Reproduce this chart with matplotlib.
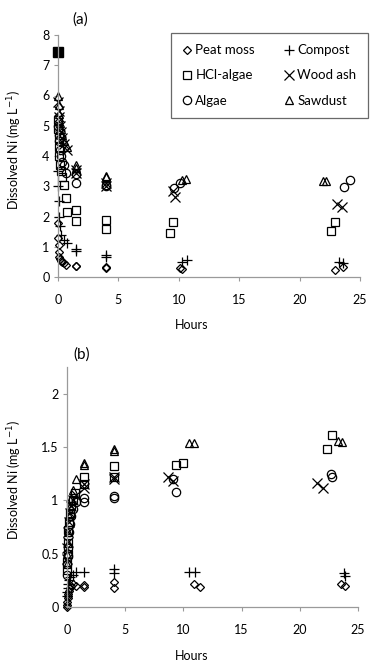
import matplotlib
matplotlib.use("Agg")
import matplotlib.pyplot as plt

plt.rcParams['font.family'] = ['Lato', 'DejaVu Sans']

# ---- panel (a): dissolved Ni vs time ----
a_initial = 7.45

a_peat_t = [0, 0.03, 0.05, 0.08, 0.1, 0.17, 0.25, 0.33, 0.5, 0.67, 1.5, 1.5, 4, 4, 10.1, 10.3, 22.9, 23.6]
a_peat_y = [1.78, 1.3, 1.05, 0.83, 0.65, 0.58, 0.52, 0.48, 0.45, 0.4, 0.38, 0.35, 0.33, 0.3, 0.3, 0.27, 0.22, 0.32]

a_comp_t = [0, 0.03, 0.05, 0.08, 0.17, 0.25, 0.5, 0.75, 1.5, 1.5, 4, 4, 10.3, 10.7, 23.3, 23.6]
a_comp_y = [3.5, 3.0, 2.5, 2.0, 1.7, 1.4, 1.22, 1.12, 0.92, 0.85, 0.73, 0.65, 0.5, 0.55, 0.5, 0.45]

a_hcl_t = [0, 0.03, 0.05, 0.08, 0.1, 0.17, 0.25, 0.33, 0.5, 0.67, 0.75, 1.5, 1.5, 4, 4, 9.3, 9.5, 22.6, 22.9]
a_hcl_y = [5.2, 4.9, 4.6, 4.3, 4.0, 3.7, 3.5, 3.3, 3.04, 2.6, 2.15, 2.2, 1.85, 1.9, 1.6, 1.45, 1.82, 1.52, 1.82]

a_wood_t = [0, 0.05, 0.08, 0.17, 0.25, 0.33, 0.5, 0.75, 1.5, 1.5, 4, 4, 9.5, 9.7, 23.1, 23.5]
a_wood_y = [5.8, 5.5, 5.3, 5.0, 4.8, 4.6, 4.4, 4.2, 3.55, 3.45, 3.1, 3.0, 2.85, 2.65, 2.42, 2.3]

a_alg_t = [0, 0.05, 0.08, 0.17, 0.25, 0.33, 0.5, 0.67, 1.5, 1.5, 4, 4, 9.6, 10.1, 23.7, 24.2]
a_alg_y = [5.0, 4.7, 4.5, 4.2, 4.0, 3.8, 3.7, 3.45, 3.42, 3.1, 3.05, 3.0, 2.95, 3.1, 2.98, 3.2]

a_saw_t = [0, 0.05, 0.08, 0.17, 0.25, 0.33, 0.5, 0.75, 1.5, 1.5, 4, 4, 10.3, 10.6, 21.9, 22.2]
a_saw_y = [6.0, 5.7, 5.4, 5.1, 4.9, 4.7, 4.5, 4.3, 3.7, 3.6, 3.35, 3.3, 3.2, 3.25, 3.17, 3.17]

# ---- panel (b) ----
b_peat_t = [0, 0, 0.03, 0.05, 0.08, 0.1, 0.17, 0.25, 0.33, 0.5, 0.75, 1.5, 1.5, 4, 4, 10.9, 11.4, 23.5, 23.9]
b_peat_y = [0.0, 0.02, 0.05, 0.08, 0.1, 0.12, 0.15, 0.18, 0.2, 0.22, 0.2, 0.21, 0.19, 0.23, 0.18, 0.22, 0.19, 0.22, 0.2]

b_comp_t = [0, 0.03, 0.05, 0.08, 0.17, 0.25, 0.5, 0.75, 1.5, 4, 4, 10.5, 11.0, 23.8, 23.9]
b_comp_y = [0.1, 0.14, 0.18, 0.22, 0.25, 0.28, 0.3, 0.33, 0.33, 0.36, 0.32, 0.33, 0.33, 0.32, 0.29]

b_hcl_t = [0, 0.03, 0.05, 0.08, 0.1, 0.17, 0.25, 0.33, 0.5, 0.67, 1.5, 1.5, 4, 4, 9.4, 10.0, 22.3, 22.8]
b_hcl_y = [0.35, 0.42, 0.5, 0.6, 0.72, 0.8, 0.88, 0.95, 1.0, 1.07, 1.22, 1.15, 1.32, 1.22, 1.33, 1.35, 1.48, 1.61]

b_wood_t = [0, 0.03, 0.05, 0.08, 0.17, 0.25, 0.33, 0.5, 0.75, 1.5, 1.5, 4, 4, 8.7, 9.1, 21.5, 22.0]
b_wood_y = [0.45, 0.55, 0.61, 0.7, 0.8, 0.88, 0.95, 1.0, 1.05, 1.12, 1.15, 1.22, 1.2, 1.22, 1.18, 1.16, 1.12]

b_alg_t = [0, 0.03, 0.05, 0.08, 0.17, 0.25, 0.33, 0.5, 0.75, 1.5, 1.5, 4, 4, 9.1, 9.4, 22.7, 22.8]
b_alg_y = [0.3, 0.4, 0.48, 0.55, 0.7, 0.78, 0.85, 0.92, 0.98, 1.02, 0.98, 1.04, 1.02, 1.2, 1.08, 1.25, 1.22]

b_saw_t = [0, 0.03, 0.05, 0.08, 0.17, 0.25, 0.33, 0.5, 0.75, 1.5, 1.5, 4, 4, 10.5, 10.9, 23.3, 23.6]
b_saw_y = [0.4, 0.5, 0.6, 0.7, 0.85, 0.95, 1.02, 1.1, 1.2, 1.35, 1.33, 1.48, 1.46, 1.54, 1.54, 1.56, 1.55]

names = ['Peat moss', 'Compost', 'HCl-algae', 'Wood ash', 'Algae', 'Sawdust']
markers = ['D', '+', 's', 'x', 'o', '^']
msizes = [4.5, 7, 6, 6.5, 6, 6]

a_series = [(a_peat_t, a_peat_y), (a_comp_t, a_comp_y), (a_hcl_t, a_hcl_y),
            (a_wood_t, a_wood_y), (a_alg_t, a_alg_y), (a_saw_t, a_saw_y)]
b_series = [(b_peat_t, b_peat_y), (b_comp_t, b_comp_y), (b_hcl_t, b_hcl_y),
            (b_wood_t, b_wood_y), (b_alg_t, b_alg_y), (b_saw_t, b_saw_y)]

W, H = 375, 668
fig = plt.figure(figsize=(W / 100, H / 100), dpi=100)

axa = fig.add_axes([58 / W, 1 - 277 / H, 302 / W, 242 / H])
axb = fig.add_axes([67 / W, 1 - 607 / H, 291 / W, 240 / H])


def style(ax, ymax, yticks, ylabels):
    ax.set_xlim(0, 25)
    ax.set_ylim(0, ymax)
    ax.set_xticks([0, 5, 10, 15, 20, 25])
    ax.set_yticks(yticks)
    ax.set_yticklabels(ylabels)
    for s in ['top', 'right']:
        ax.spines[s].set_visible(False)
    for s in ['left', 'bottom']:
        ax.spines[s].set_color('#9a9a9a')
        ax.spines[s].set_linewidth(0.9)
    ax.tick_params(direction='out', length=3, width=0.8, color='#9a9a9a',
                   labelsize=9, labelcolor='black', pad=3)
    ax.tick_params(axis='x', pad=9)


handles = []
for ax, series in [(axa, a_series), (axb, b_series)]:
    for (t, y), name, m, ms in zip(series, names, markers, msizes):
        ln, = ax.plot(t, y, linestyle='none', marker=m, markersize=ms,
                      markerfacecolor='none', markeredgecolor='black',
                      markeredgewidth=0.9, label=name, clip_on=False)
        if ax is axa:
            handles.append(ln)

axa.plot([0], [a_initial], linestyle='none', marker='s', markersize=7,
         color='black', clip_on=False)

style(axa, 8, [0, 1, 2, 3, 4, 5, 6, 7, 8], ['0', '1', '2', '3', '4', '5', '6', '7', '8'])
style(axb, 2.25, [0, 0.5, 1, 1.5, 2], ['0', '0.5', '1', '1.5', '2'])

order = [0, 2, 4, 1, 3, 5]
leg = fig.legend([handles[i] for i in order], [names[i] for i in order],
                 loc='upper left', bbox_to_anchor=(171 / W, 1 - 33 / H),
                 ncol=2, frameon=True, fancybox=False, fontsize=9.5,
                 handlelength=0.7, handletextpad=0.3, columnspacing=2.2,
                 labelspacing=1.0, borderpad=0.85, borderaxespad=0)
leg.get_frame().set_edgecolor('#444444')
leg.get_frame().set_linewidth(0.9)

fig.text(80 / W, 1 - 20 / H, '(a)', fontsize=11, ha='center', va='center')
fig.text(82 / W, 1 - 355 / H, '(b)', fontsize=11, ha='center', va='center')
fig.text(15 / W, 1 - 150 / H, 'Dissolved Ni (mg L$^{-1}$)', rotation=90,
         fontsize=9, ha='center', va='center')
fig.text(15 / W, 1 - 480 / H, 'Dissolved Ni (mg L$^{-1}$)', rotation=90,
         fontsize=9, ha='center', va='center')
fig.text(192 / W, 1 - 325 / H, 'Hours', fontsize=9, ha='center', va='center')
fig.text(192 / W, 1 - 656 / H, 'Hours', fontsize=9, ha='center', va='center')

fig.savefig('out.png', dpi=100)
